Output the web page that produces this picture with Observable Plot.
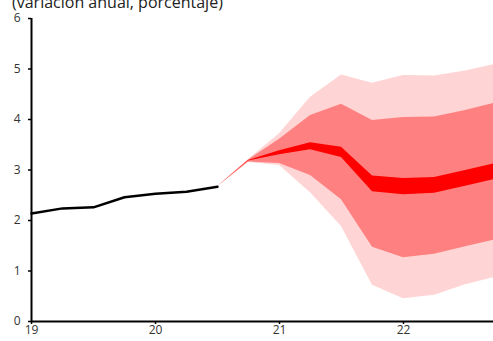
<!DOCTYPE html>
<html>
<head>
<meta charset="utf-8">
<script src="https://cdn.jsdelivr.net/npm/d3@7"></script>
<script src="https://cdn.jsdelivr.net/npm/@observablehq/plot@0.6"></script>
<style>
  html, body { margin: 0; padding: 0; background: #fff; overflow: hidden; }
  #wrap { position: relative; width: 493px; height: 341px; }
  #title { position: absolute; left: 12px; top: -6px; font: 16px/16px "Open Sans", sans-serif; color: #222; white-space: nowrap; z-index: 2; }
  #chart { position: absolute; left: 0; top: 0; }
</style>
</head>
<body>
<div id="wrap">
  <div id="title">(variación anual, porcentaje)</div>
  <div id="chart"></div>
</div>
<script>
// Historical data (quarterly, year as decimal: 19 = 2019Q1)
const histX = [19, 19.25, 19.5, 19.75, 20, 20.25, 20.5];
const histY = [2.14, 2.24, 2.26, 2.46, 2.53, 2.57, 2.67];

// Fan chart projection
const fanX = [20.5, 20.75, 21, 21.25, 21.5, 21.75, 22, 22.25, 22.5, 22.75];
const outerTop    = [2.67, 3.21, 3.72, 4.44, 4.88, 4.72, 4.87, 4.86, 4.96, 5.10];
const middleTop   = [2.67, 3.20, 3.61, 4.08, 4.30, 3.98, 4.04, 4.05, 4.18, 4.33];
const innerTop    = [2.67, 3.19, 3.38, 3.54, 3.45, 2.88, 2.83, 2.85, 2.99, 3.13];
const innerBottom = [2.67, 3.18, 3.30, 3.40, 3.25, 2.57, 2.51, 2.54, 2.68, 2.82];
const middleBottom= [2.67, 3.16, 3.13, 2.89, 2.41, 1.47, 1.26, 1.33, 1.48, 1.62];
const outerBottom = [2.67, 3.15, 3.09, 2.55, 1.88, 0.72, 0.45, 0.52, 0.73, 0.88];

const xTicks = [19, 20, 21, 22];
const yTicks = [0, 1, 2, 3, 4, 5, 6];

const hist = histX.map((x, i) => ({x, y: histY[i]}));
const fan = fanX.map((x, i) => ({
  x, ot: outerTop[i], mt: middleTop[i], it: innerTop[i],
  ib: innerBottom[i], mb: middleBottom[i], ob: outerBottom[i]
}));

const plot = Plot.plot({
  width: 493,
  height: 341,
  marginLeft: 31,
  marginRight: -3,
  marginTop: 18,
  marginBottom: 20,
  style: {fontFamily: "'Open Sans', sans-serif", fontSize: "12px", background: "white", overflow: "hidden"},
  x: {domain: [19, 22.75]},
  y: {domain: [0, 6]},
  marks: [
    Plot.areaY(fan, {x: "x", y1: "ob", y2: "ot", fill: "#ffd4d4"}),
    Plot.areaY(fan, {x: "x", y1: "mb", y2: "mt", fill: "#ff8080"}),
    Plot.areaY(fan, {x: "x", y1: "ib", y2: "it", fill: "#ff0000"}),
    Plot.line(hist, {x: "x", y: "y", stroke: "black", strokeWidth: 2.5}),
    Plot.axisX({ticks: xTicks, tickFormat: d => String(d), tickSize: 3, tickPadding: 1, stroke: "black", fill: "#333", strokeWidth: 1.5, label: null}),
    Plot.axisY({ticks: yTicks, tickFormat: d => String(d), tickSize: 3, tickPadding: 8, stroke: "black", fill: "#333", strokeWidth: 1.5, label: null}),
    Plot.ruleY([0], {stroke: "black", strokeWidth: 2}),
    Plot.ruleX([19], {stroke: "black", strokeWidth: 2})
  ]
});
document.getElementById("chart").appendChild(plot);
</script>
</body>
</html>
